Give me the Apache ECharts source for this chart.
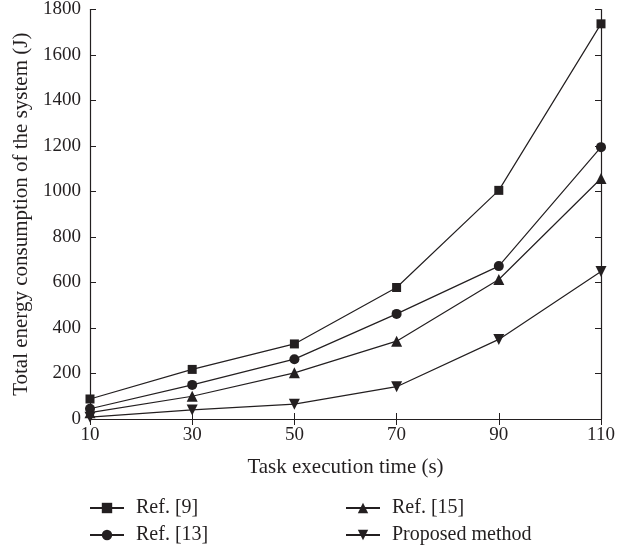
<!DOCTYPE html>
<html>
<head>
<meta charset="utf-8">
<script src="https://cdn.jsdelivr.net/npm/echarts@6/dist/echarts.min.js"></script>
<style>
  html, body { margin: 0; padding: 0; background: #fff; }
  #chart { width: 635px; height: 552px; }
</style>
</head>
<body>
<div id="chart"></div>
<script>
// task execution time (s)
var taskTimes = ['10', '30', '50', '70', '90', '110'];
// total energy consumption (J)
var ref9 = [88, 218, 330, 578, 1005, 1737];
var ref13 = [45, 150, 263, 462, 672, 1195];
var ref15 = [28, 100, 203, 342, 613, 1057];
var proposed = [8, 40, 65, 142, 350, 648];

var ink = '#231f20';
var serif = 'Liberation Serif';

function makeSeries(name, data, symbol, size, rotate){
    return {
        name: name,
        type: 'line',
        data: data,
        symbol: symbol,
        symbolSize: size,
        symbolRotate: rotate || 0,
        lineStyle: {color: ink, width: 1.2},
        itemStyle: {color: ink},
        z: 3
    };
}

var chart = echarts.init(document.getElementById('chart'));
var legendText = {fontFamily: serif, fontSize: 20, color: ink, padding: [0, 0, 0, 7]};
var option = {
    animation: false,
    grid: {left: 90, right: 34, top: 9, bottom: 133},
    legend: [
        {
            data: ['Ref. [9]', 'Ref. [13]'],
            orient: 'vertical', left: 89, top: 498, padding: 0,
            itemWidth: 34, itemHeight: 13, itemGap: 7,
            textStyle: legendText
        },
        {
            data: ['Ref. [15]', 'Proposed method'],
            orient: 'vertical', left: 345, top: 498, padding: 0,
            itemWidth: 34, itemHeight: 13, itemGap: 7,
            textStyle: legendText
        }
    ],
    xAxis: [
        {
            type: 'category', data: taskTimes, boundaryGap: false,
            name: 'Task execution time (s)', nameLocation: 'middle', nameGap: 38,
            nameTextStyle: {fontFamily: serif, fontSize: 21, color: ink},
            axisLine: {lineStyle: {color: ink, width: 1.2}},
            axisTick: {inside: true, length: 6, alignWithLabel: true, lineStyle: {color: ink}},
            axisLabel: {fontFamily: serif, fontSize: 19, color: ink, margin: 7},
            splitLine: {show: false}
        },
        {
            type: 'category', data: taskTimes, boundaryGap: false, position: 'top',
            axisLine: {lineStyle: {color: ink, width: 1.2}},
            axisTick: {inside: true, length: 6, alignWithLabel: true, lineStyle: {color: ink}},
            axisLabel: {show: false},
            splitLine: {show: false}
        }
    ],
    yAxis: [
        {
            type: 'value', min: 0, max: 1800, interval: 200,
            name: 'Total energy consumption of the system (J)', nameLocation: 'middle', nameGap: 53,
            nameTextStyle: {fontFamily: serif, fontSize: 21, color: ink},
            axisLine: {show: true, lineStyle: {color: ink, width: 1.2}},
            axisTick: {show: true, inside: true, length: 6, lineStyle: {color: ink}},
            axisLabel: {fontFamily: serif, fontSize: 19, color: ink, margin: 9,
                formatter: function(v){ return String(v); }},
            splitLine: {show: false}
        },
        {
            type: 'value', min: 0, max: 1800, interval: 200, position: 'right',
            axisLine: {show: true, lineStyle: {color: ink, width: 1.2}},
            axisTick: {show: true, inside: true, length: 6, lineStyle: {color: ink}},
            axisLabel: {show: false},
            splitLine: {show: false}
        }
    ],
    series: [
        makeSeries('Ref. [9]', ref9, 'rect', 9),
        makeSeries('Ref. [13]', ref13, 'circle', 10),
        makeSeries('Ref. [15]', ref15, 'triangle', 11),
        makeSeries('Proposed method', proposed, 'triangle', 11, 180)
    ]
};
chart.setOption(option);
</script>
</body>
</html>
